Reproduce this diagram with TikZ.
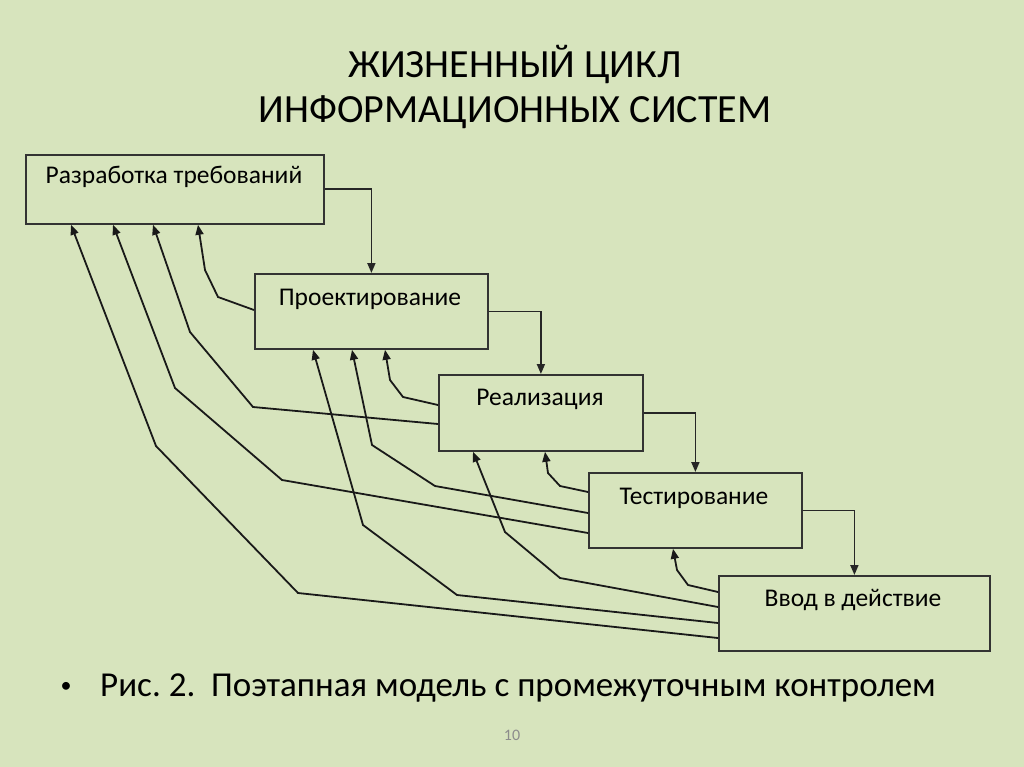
\documentclass[tikz,border=0pt]{standalone}
\usepackage{fontspec}
\setmainfont{Carlito}
\usetikzlibrary{arrows.meta}
\frenchspacing
\definecolor{bg}{HTML}{D7E4BD}
\definecolor{boxline}{HTML}{333333}
\tikzset{
  stagebox/.style={draw=boxline, fill=bg, line width=1.8pt, rectangle, anchor=north west, inner sep=0pt},
  stagetext/.style={anchor=center, font=\fontsize{25.5}{28}\selectfont, inner sep=0pt},
  fwd/.style={line width=1.8pt, draw=black!85, -{Triangle[length=10pt,width=8pt]}},
  back/.style={line width=1.8pt, draw=black!90, -{Triangle[length=10pt,width=8pt]}},
}
\begin{document}
\begin{tikzpicture}[x=1pt,y=-1pt]
\fill[bg] (0,0) rectangle (1024,767);
\useasboundingbox (0,0) rectangle (1024,767);

\node[font=\fontsize{40}{45}\selectfont, align=center, inner sep=0pt] (title) at (515,87) {ЖИЗНЕННЫЙ ЦИКЛ\\ИНФОРМАЦИОННЫХ СИСТЕМ};

\node[stagebox, minimum width=298pt, minimum height=69pt] (b1) at (25,154) {};
\node[stagebox, minimum width=233pt, minimum height=75pt] (b2) at (254,273) {};
\node[stagebox, minimum width=204pt, minimum height=76pt] (b3) at (438,374) {};
\node[stagebox, minimum width=213pt, minimum height=75pt] (b4) at (588,472) {};
\node[stagebox, minimum width=271pt, minimum height=75pt] (b5) at (718,575) {};

\node[stagetext] (t1) at (174,177) {Разработка требований};
\node[stagetext] (t2) at (370,299) {Проектирование};
\node[stagetext] (t3) at (540,399) {Реализация};
\node[stagetext] (t4) at (694,498) {Тестирование};
\node[stagetext] (t5) at (853,600) {Ввод в действие};

% forward arrows
\draw[fwd] (b1.east) -| (b2.north);
\draw[fwd] (b2.east) -| (b3.north);
\draw[fwd] (b3.east) -| (b4.north);
\draw[fwd] (b4.east) -| (b5.north);

% feedback arrows to b1
\draw[back] (b2.west |- 0,310) -- (218,297) -- (205,270) -- (198,0 |- b1.south);
\draw[back] (b3.west |- 0,424) -- (253,407) -- (190,332) -- (153,0 |- b1.south);
\draw[back] (b4.west |- 0,533) -- (282,480) -- (175,388) -- (113,0 |- b1.south);
\draw[back] (b5.west |- 0,638) -- (298,593) -- (156,446) -- (71,0 |- b1.south);
% feedback arrows to b2
\draw[back] (b3.west |- 0,405) -- (403,397) -- (390,380) -- (385,0 |- b2.south);
\draw[back] (b4.west |- 0,513) -- (435,486) -- (372,445) -- (352,0 |- b2.south);
\draw[back] (b5.west |- 0,623) -- (457,595) -- (363,525) -- (313,0 |- b2.south);
% feedback arrows to b3
\draw[back] (b4.west |- 0,492) -- (560,486) -- (548,473) -- (545,0 |- b3.south);
\draw[back] (b5.west |- 0,607) -- (560,578) -- (505,532) -- (473,0 |- b3.south);
% feedback arrow to b4
\draw[back] (b5.west |- 0,592) -- (688,585) -- (677,570) -- (673,0 |- b4.south);

\node[font=\fontsize{22}{24}\selectfont, inner sep=0pt] (bullet) at (66,687) {\textbullet};
\node[anchor=west, font=\fontsize{35}{40}\selectfont, inner sep=0pt] (cap) at (100,688) {Рис. 2.\ \ Поэтапная модель с промежуточным контролем};
\node[font=\fontsize{16}{18}\selectfont, text=black!45, inner sep=0pt] (pg) at (512,735) {10};
\end{tikzpicture}
\end{document}
